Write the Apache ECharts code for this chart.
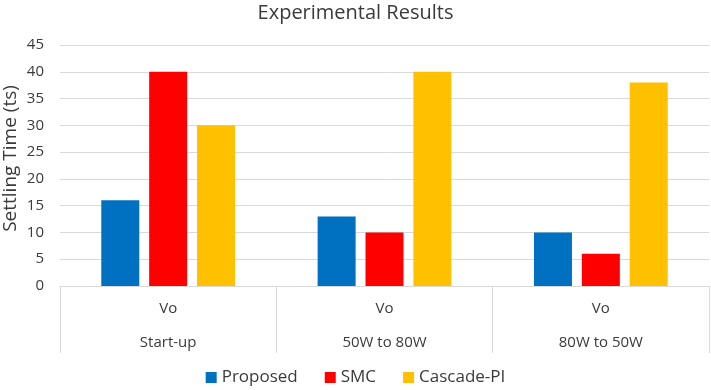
<!DOCTYPE html>
<html>
<head>
<meta charset="utf-8">
<script src="https://cdn.jsdelivr.net/npm/echarts@6/dist/echarts.min.js"></script>
<style>html,body{margin:0;padding:0;background:#fff}#c{width:711px;height:390px}</style>
</head>
<body>
<div id="c"></div>
<script>
var groups = ['Start-up', '50W to 80W', '80W to 50W'];
var subLabels = ['Vo', 'Vo', 'Vo'];
var seriesNames = ['Proposed', 'SMC', 'Cascade-PI'];
var proposed = [16, 13, 10];
var smc = [40, 10, 6];
var cascadePI = [30, 40, 38];
var yTicks = {min: 0, max: 45, interval: 5};

var FONT = "'Open Sans', 'Noto Sans', sans-serif";
var TXT = '#3a3a3a';
var GRID = '#d9d9d9';
var colors = ['#0070C0', '#FF0000', '#FFC000'];
var values = [proposed, smc, cascadePI];

var chart = echarts.init(document.getElementById('c'));
chart.setOption({
  animation: false,
  title: {
    text: 'Experimental Results',
    left: 'center',
    top: -2,
    textStyle: {fontFamily: FONT, fontSize: 20, fontWeight: 'normal', color: TXT}
  },
  legend: {
    bottom: -1,
    left: 'center',
    icon: 'rect',
    itemWidth: 11,
    itemHeight: 11,
    itemGap: 27,
    textStyle: {fontFamily: FONT, fontSize: 17, color: TXT},
    data: seriesNames
  },
  grid: {left: 60, right: 2, top: 45, bottom: 104, containLabel: false, outerBoundsMode: 'none'},
  xAxis: [
    {
      type: 'category',
      data: subLabels,
      position: 'bottom',
      axisLine: {show: true, lineStyle: {color: GRID, width: 1}},
      axisTick: {show: true, interval: 0, length: 67, lineStyle: {color: GRID}},
      axisLabel: {interval: 0, margin: 15, fontFamily: FONT, fontSize: 15, color: TXT}
    },
    {
      type: 'category',
      data: groups,
      position: 'bottom',
      axisLine: {show: false},
      axisTick: {show: false},
      axisLabel: {interval: 0, margin: 49, fontFamily: FONT, fontSize: 15, color: TXT}
    }
  ],
  yAxis: {
    type: 'value',
    min: yTicks.min,
    max: yTicks.max,
    interval: yTicks.interval,
    name: 'Settling Time (ts)',
    nameLocation: 'middle',
    nameGap: 40,
    nameMoveOverlap: false,
    nameTextStyle: {fontFamily: FONT, fontSize: 19, color: TXT, padding: [0, 0, 0, 14]},
    axisLine: {show: false},
    axisTick: {show: false},
    axisLabel: {margin: 16, fontFamily: FONT, fontSize: 15, color: TXT},
    splitLine: {lineStyle: {color: GRID, width: 1}}
  },
  series: seriesNames.map(function (n, i) {
    return {
      name: n,
      type: 'bar',
      xAxisIndex: 0,
      data: values[i],
      barWidth: 38,
      barGap: '26%',
      itemStyle: {color: colors[i]}
    };
  })
});
</script>
</body>
</html>
